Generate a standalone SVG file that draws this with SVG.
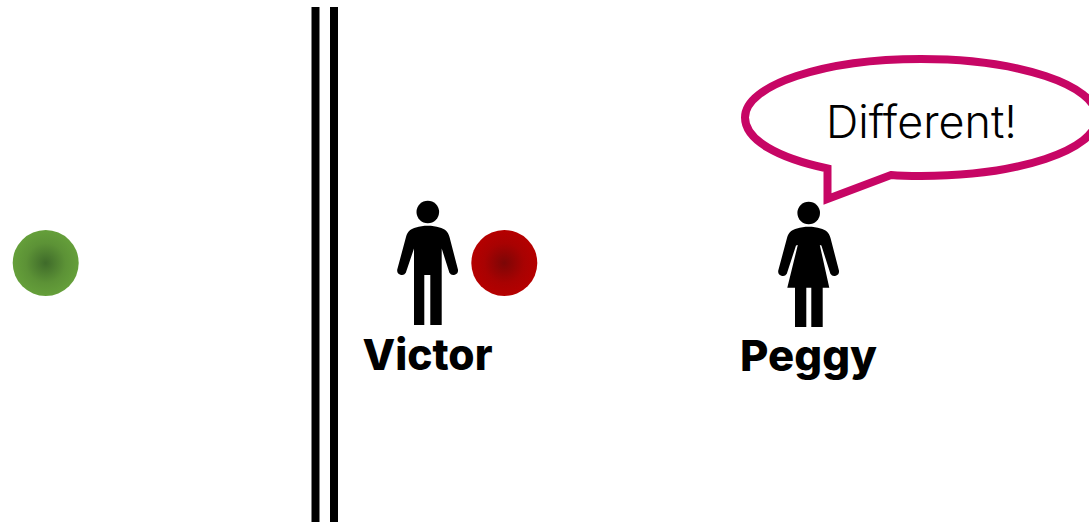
<svg xmlns="http://www.w3.org/2000/svg" width="1089" height="522" viewBox="0 0 1089 522">
<style>
.bar{fill:#000}
.fig{fill:#000}
.name{font-family:"Inter","Liberation Sans",sans-serif;font-weight:800;font-size:43px;fill:#000}
.say{font-family:"Inter","Liberation Sans",sans-serif;font-weight:300;font-size:45px;fill:#000;font-variant-ligatures:none}
</style>
<defs>
<radialGradient id="g"><stop offset="0" stop-color="#3f6b2a"/><stop offset="0.6" stop-color="#5c9236"/><stop offset="1" stop-color="#659f3a"/></radialGradient>
<radialGradient id="r"><stop offset="0" stop-color="#7c0606"/><stop offset="0.6" stop-color="#a80202"/><stop offset="1" stop-color="#b50000"/></radialGradient>
</defs>
<rect width="1089" height="522" fill="#fff"/>
<g id="wall"><rect class="bar" x="311.500" y="7" width="8" height="515"/><rect class="bar" x="330" y="7" width="8" height="515"/></g>
<g id="ball-green"><circle cx="45.700" cy="263" r="33" fill="url(#g)"/></g>
<g id="ball-red"><circle cx="504.300" cy="263" r="33" fill="url(#r)"/></g>
<g id="victor">
<circle class="fig" cx="427.800" cy="212" r="11.300"/>
<path class="fig" d="M414 325V248.500L405.800 272.800A4.700 4.700 0 0 1 397.200 269.800L406 237C407.500 231 411 229 416 227.500C423 225.300 432.500 225.300 439.500 227.500C444.500 229 448 231 449.500 237L458 269.800A4.700 4.700 0 0 1 449.400 272.800L441.700 248.500V325H430.300V275H424.300V325Z"/>
<text class="name" x="362.500" y="370" textLength="130" lengthAdjust="spacingAndGlyphs">Victor</text>
</g>
<g id="peggy">
<circle class="fig" cx="808.700" cy="213" r="11.300"/>
<path class="fig" d="M795 327V287.700H787.300L797.800 245L796 245.500L786.800 273.800A4.700 4.700 0 0 1 778.200 270.800L787 238C788.500 232 792 230 797 228.500C804 226.300 813.500 226.300 820.500 228.500C825.500 230 829 232 830.500 238L839 270.800A4.700 4.700 0 0 1 830.400 273.800L821.400 245.500L819.800 245L829.300 287.700H822.700V327H811.300V287.700H806.300V327Z"/>
<text class="name" x="740" y="371" textLength="137" lengthAdjust="spacingAndGlyphs">Peggy</text>
</g>
<g id="bubble">
<path d="M827.500 168.500C778 158 745 140 745 117.500C745 85 824 59 921 59C1018 59 1097 85 1097 117.500C1097 150 1018 176 921 176C911 176 900 175.800 891 175L827.500 199Z" fill="#fff" stroke="#c70665" stroke-width="8"/>
<text class="say" x="826" y="138" textLength="191" lengthAdjust="spacingAndGlyphs">Different!</text>
</g>
</svg>
